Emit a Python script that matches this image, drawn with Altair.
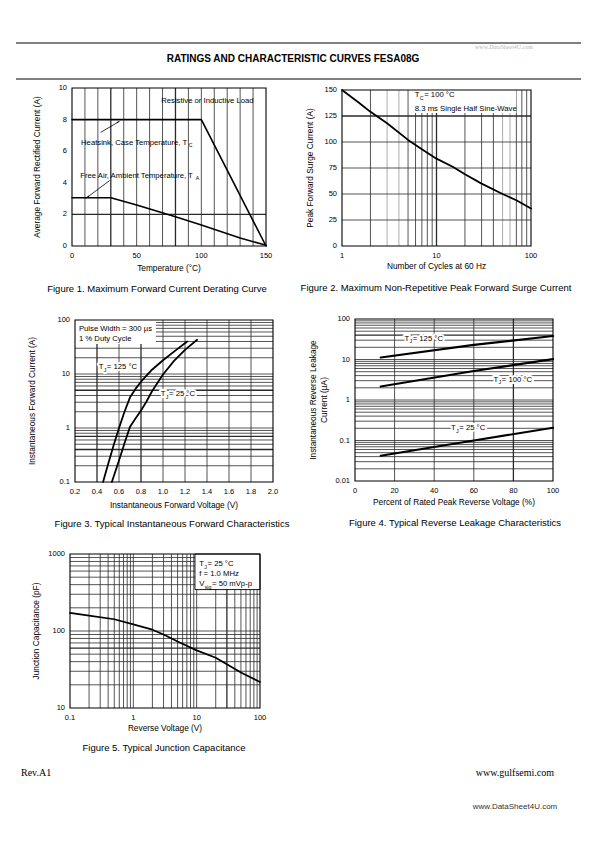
import altair as alt
import pandas as pd

FONT = "Liberation Sans"
SERIF = "Liberation Serif"
INK = "black"
GRID = "#2a2a2a"

# ---------------- page texts ----------------
page_title = "RATINGS AND CHARACTERISTIC CURVES FESA08G"
watermark_top = "www.DataSheet4U.com"
footer_left = "Rev.A1"
footer_right = "www.gulfsemi.com"
footer_bottom = "www.DataSheet4U.com"

# ---------------- Figure 1 ----------------
f1_caption = "Figure 1. Maximum Forward Current Derating Curve"
f1_xtitle = "Temperature (°C)"
f1_ytitle = "Average Forward Rectified Current (A)"
f1_xticks = [0, 50, 100, 150]
f1_yticks = [0, 2, 4, 6, 8, 10]
f1_vgrid = [10, 20, 40, 50, 60, 70, 90, 100, 110, 120, 130, 140]
f1_vgrid_bold = [30, 80]
f1_hgrid_bold = [2]
f1_case_temp = [0, 100, 150]
f1_case_amp = [8, 8, 0]
f1_air_temp = [0, 30, 50, 80, 100, 130, 150]
f1_air_amp = [3.05, 3.05, 2.6, 1.85, 1.33, 0.5, 0.05]
f1_arrow_case_t = [22.4, 35.8]
f1_arrow_case_a = [7.2, 7.85]
f1_arrow_air_t = [28.9, 12.1]
f1_arrow_air_a = [4.13, 3.1]
f1_note_load = "Resistive or Inductive Load"
f1_note_case = "Heatsink, Case Temperature, T"
f1_note_air = "Free Air, Ambient Temperature, T"

# ---------------- Figure 2 ----------------
f2_caption = "Figure 2. Maximum Non-Repetitive Peak Forward Surge Current"
f2_xtitle = "Number of Cycles at 60 Hz"
f2_ytitle = "Peak Forward Surge Current (A)"
f2_xticks = [1, 10, 100]
f2_yticks = [0, 25, 50, 75, 100, 125, 150]
f2_vgrid = [2, 5, 6, 7, 8, 9, 20, 30, 40, 70, 80, 90]
f2_vgrid_grey = [3, 4, 50, 60]
f2_vgrid_bold = [10]
f2_hgrid = [25, 50, 75, 100]
f2_hgrid_bold = [125]
f2_cycles = [1, 1.5, 2, 3, 5, 7, 10, 15, 20, 30, 50, 70, 100]
f2_surge = [150, 138, 129, 118, 102, 93, 84, 76, 69, 60, 50, 44, 36]
f2_note1 = " = 100 °C"
f2_note2 = "8.3 ms Single Half Sine-Wave"

# ---------------- Figure 3 ----------------
f3_caption = "Figure 3. Typical Instantaneous Forward Characteristics"
f3_xtitle = "Instantaneous Forward Voltage (V)"
f3_ytitle = "Instantaneous Forward Current (A)"
f3_xticks = [0.2, 0.4, 0.6, 0.8, 1.0, 1.2, 1.4, 1.6, 1.8, 2.0]
f3_yticks = [0.1, 1, 10, 100]
f3_vgrid = [0.6, 1.0, 1.2, 1.4, 1.6, 1.8]
f3_vgrid_bold = [0.4, 0.8]
f3_hgrid = [0.2, 0.3, 0.5, 0.6, 0.8, 0.9, 1, 2, 3, 4, 6, 7, 8, 9, 10,
            20, 30, 40, 50, 60, 70, 80, 90]
f3_hgrid_bold = [0.4, 0.7, 5]
f3_v125 = [0.455, 0.5, 0.55, 0.6, 0.65, 0.7, 0.75, 0.8, 0.9, 1.0, 1.1, 1.22]
f3_i125 = [0.1, 0.21, 0.47, 1.0, 2.0, 3.7, 5.3, 7.2, 12, 18, 26, 40]
f3_v25 = [0.535, 0.6, 0.65, 0.7, 0.75, 0.8, 0.85, 0.9, 1.0, 1.1, 1.2, 1.31]
f3_i25 = [0.1, 0.25, 0.52, 1.05, 1.5, 2.1, 3.1, 4.8, 9.8, 17.5, 28, 43]
f3_note1 = "Pulse Width = 300 µs"
f3_note2 = "1 % Duty Cycle"

# ---------------- Figure 4 ----------------
f4_caption = "Figure 4. Typical Reverse Leakage Characteristics"
f4_xtitle = "Percent of Rated Peak Reverse Voltage (%)"
f4_ytitle1 = "Instantaneous Reverse Leakage"
f4_ytitle2 = "Current (µA)"
f4_xticks = [0, 20, 40, 60, 80, 100]
f4_yticks = [0.01, 0.1, 1, 10, 100]
f4_vgrid = [20, 40, 60]
f4_vgrid_bold = [80]
f4_hgrid = [0.02, 0.03, 0.04, 0.05, 0.06, 0.07, 0.08, 0.09, 0.1,
            0.2, 0.3, 0.4, 0.5, 0.6, 0.7, 0.8, 0.9, 1,
            2, 3, 4, 5, 6, 7, 8, 9, 10,
            20, 30, 50, 60, 70, 80, 90]
f4_hgrid_bold = [40]
f4_pct = [13, 60, 100]
f4_i125 = [11.2, 23, 38]
f4_i100 = [2.15, 5.2, 10.2]
f4_i25 = [0.042, 0.1, 0.206]

# ---------------- Figure 5 ----------------
f5_caption = "Figure 5. Typical Junction Capacitance"
f5_xtitle = "Reverse Voltage (V)"
f5_ytitle = "Junction Capacitance (pF)"
f5_xticks = [0.1, 1, 10, 100]
f5_yticks = [10, 100, 1000]
f5_vgrid = [0.2, 0.3, 0.4, 0.5, 0.6, 0.7, 0.8, 0.9, 1, 2, 3, 4, 5, 6, 7, 8, 9, 10,
            20, 40, 50, 60, 70, 80, 90]
f5_vgrid_bold = [30]
f5_hgrid = [20, 30, 40, 50, 70, 80, 90, 100, 200, 300, 400, 500, 600, 700, 800, 900]
f5_hgrid_bold = [60]
f5_volt = [0.1, 0.2, 0.5, 1, 2, 3, 5, 10, 20, 30, 50, 100]
f5_cap = [172, 158, 142, 122, 104, 90, 73, 56, 45, 37, 29, 21.8]
f5_note2 = "f = 1.0 MHz"

# ---------------- helpers ----------------
CW = {}
for ch in "abdeghnopqu":
    CW[ch] = 0.556
for ch in "cksvxyz":
    CW[ch] = 0.5
CW.update({"f": 0.278, "t": 0.278, "i": 0.222, "j": 0.222, "l": 0.222,
           "m": 0.833, "r": 0.333, "w": 0.722})
CW.update({"A": 0.667, "B": 0.667, "C": 0.722, "D": 0.722, "E": 0.667,
           "F": 0.611, "G": 0.778, "H": 0.722, "I": 0.278, "J": 0.5,
           "K": 0.667, "L": 0.556, "M": 0.833, "N": 0.722, "O": 0.778,
           "P": 0.667, "R": 0.722, "S": 0.667, "T": 0.611, "U": 0.722,
           "V": 0.667, "W": 0.944})
for ch in "0123456789":
    CW[ch] = 0.556
CW.update({" ": 0.278, ".": 0.278, ",": 0.278, "=": 0.584, "°": 0.4,
           "-": 0.333, "%": 0.889, "µ": 0.576, "(": 0.333, ")": 0.333})


def tw(s, size):
    return sum(CW.get(ch, 0.556) for ch in s) * size


ONE = pd.DataFrame({"a": [0]})
TICK = 7.5
ATITLE = 8.3
CAP = 9.5
NOTE = 7.7


class Panel:
    """A page cell of size W x H with a plot rectangle (a, b, w, h) inside it."""

    def __init__(self, W, H, plot, xdom, ydom, xlog=False, ylog=False):
        self.W, self.H = W, H
        self.a, self.b, self.w, self.h = plot
        a, b, w, h = plot
        rx, ry = [a, a + w], [b + h, b]
        self.xs = (alt.Scale(type="log", domain=xdom, range=rx, nice=False) if xlog
                   else alt.Scale(domain=xdom, range=rx, nice=False, zero=False))
        self.ys = (alt.Scale(type="log", domain=ydom, range=ry, nice=False) if ylog
                   else alt.Scale(domain=ydom, range=ry, nice=False, zero=False))
        self.layers = [alt.Chart(ONE).mark_rect(fill="white", opacity=0).encode(
            x=alt.value(0), x2=alt.value(W), y=alt.value(0), y2=alt.value(H))]

    def X(self, f="x"):
        return alt.X(f"{f}:Q", scale=self.xs, axis=None)

    def Y(self, f="y"):
        return alt.Y(f"{f}:Q", scale=self.ys, axis=None)

    def vgrid(self, vals, width=0.8, color=GRID):
        self.layers.append(alt.Chart(pd.DataFrame({"x": vals})).mark_rule(
            color=color, strokeWidth=width).encode(
            x=self.X(), y=alt.value(self.b), y2=alt.value(self.b + self.h)))

    def hgrid(self, vals, width=0.8, color=GRID):
        self.layers.append(alt.Chart(pd.DataFrame({"y": vals})).mark_rule(
            color=color, strokeWidth=width).encode(
            y=self.Y(), x=alt.value(self.a), x2=alt.value(self.a + self.w)))

    def xlabels(self, vals, fmt, dy=9.5):
        self.layers.append(alt.Chart(pd.DataFrame({"x": vals})).mark_text(
            fontSize=TICK, font=FONT, color=INK, baseline="middle", align="center").encode(
            x=self.X(), y=alt.value(self.b + self.h + dy),
            text=alt.Text("x:Q", format=fmt)))

    def ylabels(self, vals, fmt, dx=5):
        self.layers.append(alt.Chart(pd.DataFrame({"y": vals})).mark_text(
            fontSize=TICK, font=FONT, color=INK, baseline="middle", align="right").encode(
            y=self.Y(), x=alt.value(self.a - dx),
            text=alt.Text("y:Q", format=fmt)))

    def box(self, x0, x1, y0, y1, stroke=None):
        kw = dict(fill="white")
        if stroke:
            kw.update(stroke=stroke, strokeWidth=0.9)
        df = pd.DataFrame({"x": [x0], "x2": [x1], "y": [y0], "y2": [y1]})
        self.layers.append(alt.Chart(df).mark_rect(**kw).encode(
            x=self.X(), x2=alt.X2("x2"), y=self.Y(), y2=alt.Y2("y2")))

    def line(self, xs, ys, width=1.6):
        df = pd.DataFrame({"x": xs, "y": ys, "i": list(range(len(xs)))})
        self.layers.append(alt.Chart(df).mark_line(
            color=INK, strokeWidth=width, strokeCap="round", strokeJoin="round").encode(
            x=self.X(), y=self.Y(), order="i:Q"))

    def head(self, x, y, angle, size=30):
        df = pd.DataFrame({"x": [x], "y": [y]})
        self.layers.append(alt.Chart(df).mark_point(
            shape="wedge", angle=angle, size=size, filled=True, color=INK,
            opacity=1).encode(x=self.X(), y=self.Y()))

    def rich(self, x, y, parts, size=NOTE, halo=False):
        base = alt.Chart(pd.DataFrame({"x": [x], "y": [y]}))
        pieces = []
        dx = 0.0
        for txt, sub in parts:
            fs = size * 0.68 if sub else size
            pieces.append((txt, fs, dx, size * 0.33 if sub else 0.0))
            dx += tw(txt, fs) + (0.6 if sub else 0.3)
        if halo:
            for txt, fs, d, dy in pieces:
                self.layers.append(base.mark_text(
                    text=txt, fontSize=fs, dx=d, dy=dy, align="left",
                    baseline="middle", font=FONT, color="white", stroke="white",
                    strokeWidth=4, strokeJoin="round").encode(x=self.X(), y=self.Y()))
        for txt, fs, d, dy in pieces:
            self.layers.append(base.mark_text(
                text=txt, fontSize=fs, dx=d, dy=dy, align="left",
                baseline="middle", font=FONT, color=INK).encode(x=self.X(), y=self.Y()))

    def ptext(self, rx, ry, txt, size=CAP, align="center", font=FONT,
              color=INK, weight="normal", angle=0):
        """Text placed relative to the plot's top-left corner, in pixels."""
        kw = dict(text=txt, fontSize=size, align=align, baseline="middle", font=font,
                  color=color, fontWeight=weight)
        if angle:
            kw["angle"] = angle
        self.layers.append(alt.Chart(ONE).mark_text(**kw).encode(
            x=alt.value(self.a + rx), y=alt.value(self.b + ry)))

    def xtitle(self, txt, dy):
        self.ptext(self.w / 2, self.h + dy, txt, size=ATITLE)

    def ytitle(self, txt, dx):
        self.ptext(dx, self.h / 2, txt, size=ATITLE, angle=270)

    def frame(self):
        self.layers.append(alt.Chart(ONE).mark_rect(
            fillOpacity=0, stroke=INK, strokeWidth=1.1).encode(
            x=alt.value(self.a), x2=alt.value(self.a + self.w),
            y=alt.value(self.b), y2=alt.value(self.b + self.h)))

    def chart(self):
        return alt.layer(*self.layers).properties(width=self.W, height=self.H)


# ---------------- Figure 1 ----------------
p1 = Panel(283, 216, (56, 4, 194, 158), [0, 150], [0, 10])
p1.vgrid(f1_vgrid, 0.8)
p1.vgrid(f1_vgrid_bold, 1.3)
p1.hgrid(f1_hgrid_bold, 1.3)
p1.line(f1_case_temp, f1_case_amp, 1.6)
p1.line(f1_air_temp, f1_air_amp, 1.6)
p1.line(f1_arrow_case_t, f1_arrow_case_a, 0.8)
p1.line(f1_arrow_air_t, f1_arrow_air_a, 0.8)
p1.head(f1_arrow_case_t[-1], f1_arrow_case_a[-1], 59)
p1.head(f1_arrow_air_t[-1], f1_arrow_air_a[-1], 233)
p1.rich(69, 9.15, [(f1_note_load, False)])
p1.rich(7, 6.55, [(f1_note_case, False), ("C", True)])
p1.rich(6.4, 4.45, [(f1_note_air, False), ("A", True)])
p1.frame()
p1.xlabels(f1_xticks, "d")
p1.ylabels(f1_yticks, "d")
p1.xtitle(f1_xtitle, 23)
p1.ytitle(f1_ytitle, -34)
p1.ptext(85, 201, f1_caption)
fig1 = p1.chart()

# ---------------- Figure 2 ----------------
p2 = Panel(282, 216, (43, 6, 189, 156), [1, 100], [0, 150], xlog=True)
p2.vgrid(f2_vgrid, 0.8)
p2.vgrid(f2_vgrid_grey, 1.1, "#b4b4b4")
p2.vgrid(f2_vgrid_bold, 1.3)
p2.hgrid(f2_hgrid, 0.8)
p2.hgrid(f2_hgrid_bold, 1.3)
p2.box(5.5, 70, 128, 150)
p2.line(f2_cycles, f2_surge, 1.8)
p2.rich(5.9, 145, [("T", False), ("C", True), (f2_note1, False)])
p2.rich(5.9, 132, [(f2_note2, False)])
p2.frame()
p2.xlabels(f2_xticks, "~g")
p2.ylabels(f2_yticks, "d")
p2.xtitle(f2_xtitle, 21)
p2.ytitle(f2_ytitle, -31)
p2.ptext(94, 198, f2_caption)
fig2 = p2.chart()

# ---------------- Figure 3 ----------------
p3 = Panel(287, 235, (59, 20, 198, 162), [0.2, 2.0], [0.1, 100], ylog=True)
p3.vgrid(f3_vgrid, 0.8)
p3.vgrid(f3_vgrid_bold, 1.3)
p3.hgrid(f3_hgrid, 0.8)
p3.hgrid(f3_hgrid_bold, 1.3)
p3.box(0.2, 0.935, 36, 100)
p3.line(f3_v125, f3_i125, 1.8)
p3.line(f3_v25, f3_i25, 1.8)
p3.rich(0.236, 68, [(f3_note1, False)])
p3.rich(0.236, 44.5, [(f3_note2, False)])
p3.rich(0.415, 13.5, [("T", False), ("J", True), (" = 125 °C", False)], halo=True)
p3.rich(0.98, 4.2, [("T", False), ("J", True), (" = 25 °C", False)], halo=True)
p3.frame()
p3.xlabels(f3_xticks, ".1f")
p3.ylabels(f3_yticks, "~g")
p3.xtitle(f3_xtitle, 24)
p3.ytitle(f3_ytitle, -42)
p3.ptext(97, 204, f3_caption)
fig3 = p3.chart()

# ---------------- Figure 4 ----------------
p4 = Panel(278, 235, (52, 19, 198, 162), [0, 100], [0.01, 100], ylog=True)
p4.vgrid(f4_vgrid, 0.8)
p4.vgrid(f4_vgrid_bold, 1.3)
p4.hgrid(f4_hgrid, 0.8)
p4.hgrid(f4_hgrid_bold, 1.3)
p4.line(f4_pct, f4_i125, 2.2)
p4.line(f4_pct, f4_i100, 2.2)
p4.line(f4_pct, f4_i25, 2.2)
p4.rich(25, 33, [("T", False), ("J", True), (" = 125 °C", False)], halo=True)
p4.rich(70, 3.2, [("T", False), ("J", True), (" = 100 °C", False)], halo=True)
p4.rich(48.5, 0.2, [("T", False), ("J", True), (" = 25 °C", False)], halo=True)
p4.frame()
p4.xlabels(f4_xticks, "d")
p4.ylabels(f4_yticks, "~g")
p4.xtitle(f4_xtitle, 22)
p4.ytitle(f4_ytitle1, -41)
p4.ytitle(f4_ytitle2, -30)
p4.ptext(100, 204, f4_caption)
fig4 = p4.chart()

# ---------------- Figure 5 ----------------
p5 = Panel(565, 287, (54, 19, 190, 154), [0.1, 100], [10, 1000], xlog=True, ylog=True)
p5.vgrid(f5_vgrid, 0.8)
p5.vgrid(f5_vgrid_bold, 1.3)
p5.hgrid(f5_hgrid, 0.8)
p5.hgrid(f5_hgrid_bold, 1.3)
p5.box(9.4, 100, 345, 1000, stroke=INK)
p5.line(f5_volt, f5_cap, 1.7)
p5.rich(11, 735, [("T", False), ("J", True), (" = 25 °C", False)])
p5.rich(11, 545, [(f5_note2, False)])
p5.rich(11, 405, [("V", False), ("sig", True), (" = 50 mVp-p", False)])
p5.frame()
p5.xlabels(f5_xticks, "~g")
p5.ylabels(f5_yticks, "~g")
p5.xtitle(f5_xtitle, 21)
p5.ytitle(f5_ytitle, -33)
p5.ptext(94, 194, f5_caption)
p5.ptext(-49, 219, footer_left, size=10, align="left", font=SERIF)
p5.ptext(484, 219, footer_right, size=10, align="right", font=SERIF)
p5.ptext(445, 253, footer_bottom, size=8, align="center", font=FONT, color="#333333")
fig5 = p5.chart()

# ---------------- header ----------------
header = alt.layer(
    alt.Chart(ONE).mark_rect(fill="white", opacity=0).encode(
        x=alt.value(0), x2=alt.value(565), y=alt.value(0), y2=alt.value(42)),
    alt.Chart(ONE).mark_rule(color=INK, strokeWidth=1).encode(
        x=alt.value(0), x2=alt.value(565), y=alt.value(1)),
    alt.Chart(ONE).mark_rule(color=INK, strokeWidth=1).encode(
        x=alt.value(0), x2=alt.value(565), y=alt.value(37)),
    alt.Chart(ONE).mark_text(text=page_title, fontSize=10, fontWeight="bold",
                             font=FONT, color=INK, baseline="middle").encode(
        x=alt.value(277), y=alt.value(17)),
    alt.Chart(ONE).mark_text(text=watermark_top, fontSize=6, font=SERIF,
                             color="#b8b8b8", baseline="middle").encode(
        x=alt.value(488), y=alt.value(5)),
).properties(width=565, height=42)

# ---------------- page layout ----------------
row1 = alt.hconcat(fig1, fig2, spacing=0)
row2 = alt.hconcat(fig3, fig4, spacing=0)

chart = alt.vconcat(
    header, row1, row2, fig5, spacing=0,
).properties(
    padding={"left": 7, "top": 34, "right": 0, "bottom": 0}
).configure_view(stroke=None)

chart.save("out.html", embed_options={"renderer": "svg", "actions": False})
